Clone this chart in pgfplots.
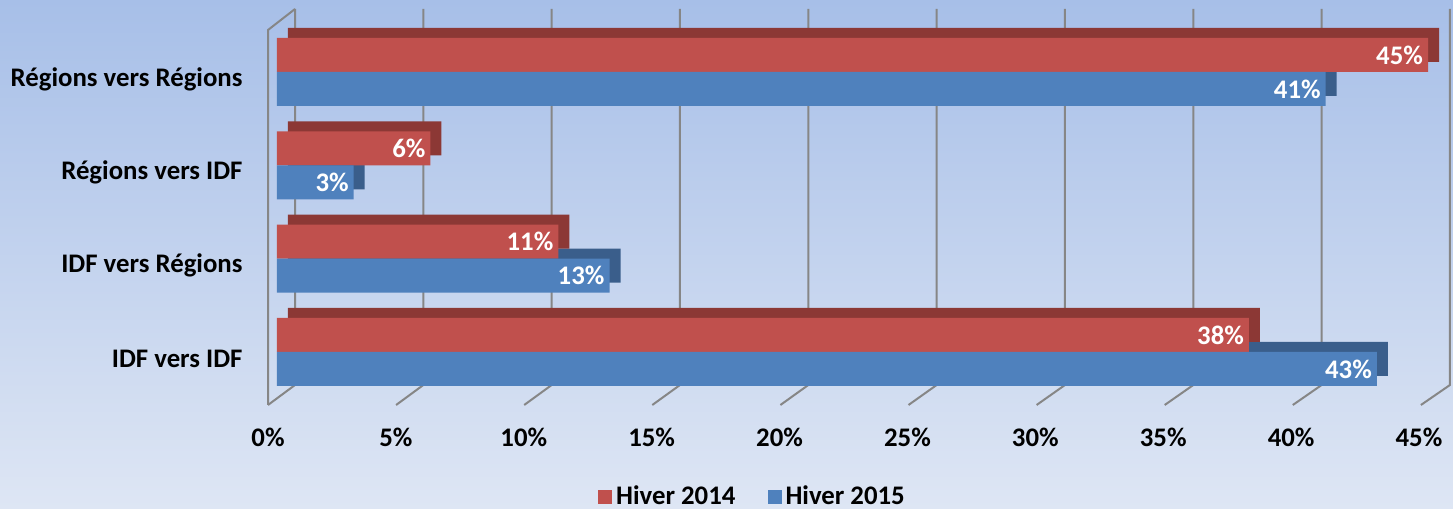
\documentclass[border=0pt]{standalone}
\usepackage{pgfplots}
\pgfplotsset{compat=1.18}
\usepackage{fontspec}
\setmainfont{Carlito}
\definecolor{bgtop}{RGB}{167,191,232}
\definecolor{bgbot}{RGB}{222,230,244}
\definecolor{redf}{RGB}{192,80,77}
\definecolor{redd}{RGB}{140,56,53}
\definecolor{bluef}{RGB}{79,129,189}
\definecolor{blued}{RGB}{58,94,139}
\definecolor{gridc}{RGB}{134,134,134}
\newcommand{\lblfont}{\fontsize{13.4}{15}\selectfont\bfseries}
\begin{document}
\begin{tikzpicture}[font=\lblfont]
\shade[top color=bgtop, bottom color=bgbot] (0,0) rectangle (726.5pt,254.5pt);
\begin{scope}[x=0.5pt,y=-0.5pt,yshift=254.5pt]
  \draw[gridc, line width=1pt] (268,405) -- (268,30) -- (295,9);
  \foreach \v in {0,...,9} {
    \pgfmathsetmacro\bx{295+\v*128.33}
    \pgfmathsetmacro\fx{268+\v*128.1}
    \draw[gridc, line width=1pt] (\bx,9) -- (\bx,385) -- (\fx,405);
  }
\end{scope}
\begin{axis}[
  at={(138.5pt,52pt)}, anchor=south west,
  scale only axis, width=575.5pt, height=187.5pt,
  xmin=0, xmax=45, ymin=-0.568, ymax=3.45,
  axis line style={draw=none}, tick style={draw=none},
  xtick={0,5,...,45},
  xticklabels={0\%,5\%,10\%,15\%,20\%,25\%,30\%,35\%,40\%,45\%},
  xticklabel style={xshift=-4.5pt, yshift=-8pt},
  ytick={0,1,2,3},
  yticklabels={IDF vers IDF, IDF vers Régions, Régions vers IDF, Régions vers Régions},
  yticklabel style={xshift=-13.7pt, yshift=-3.5pt},
  ticklabel style={font=\lblfont},
  /pgf/number format/assume math mode=true,
  clip=false,
  bar width=17pt,
  legend style={at={(0.414,-0.245)}, anchor=center, draw=none, fill=none,
    legend columns=2, font=\lblfont,
    /tikz/every even column/.append style={column sep=14pt}},
  legend cell align=left,
  legend image code/.code={\fill[#1] (0pt,-3.5pt) rectangle (7pt,3.5pt);},
  nodes near coords style={anchor=east, text=white, font=\lblfont, xshift=1pt},
]
\addplot[xbar, bar shift=-3.5pt, fill=blued, draw=none, xshift=5.5pt, forget plot]
  coordinates {(43,0) (13,1) (3,2) (41,3)};
\addplot[xbar, bar shift=13.5pt, fill=redd, draw=none, xshift=5.5pt, forget plot]
  coordinates {(38,0) (11,1) (6,2) (45,3)};
\addplot[xbar, bar shift=8.5pt, fill=redf, draw=none, point meta=x,
  nodes near coords={\pgfmathprintnumber{\pgfplotspointmeta}\%},
  every node near coord/.append style={yshift=8.5pt}]
  coordinates {(38,0) (11,1) (6,2) (45,3)};
\addlegendentry{Hiver 2014}
\addplot[xbar, bar shift=-8.5pt, fill=bluef, draw=none, point meta=x,
  nodes near coords={\pgfmathprintnumber{\pgfplotspointmeta}\%},
  every node near coord/.append style={yshift=-8.5pt}]
  coordinates {(43,0) (13,1) (3,2) (41,3)};
\addlegendentry{Hiver 2015}
\end{axis}
\pgfresetboundingbox
\path (0,0) rectangle (726.5pt,254.5pt);
\end{tikzpicture}
\end{document}
